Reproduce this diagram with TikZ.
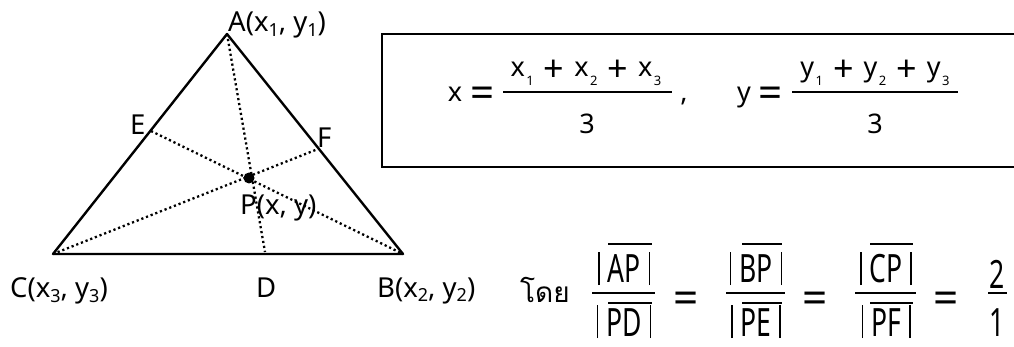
\documentclass[tikz,border=0pt]{standalone}
\usepackage{fontspec}
\usepackage{graphicx}
\setmainfont{Noto Sans}
\newfontfamily\thaifont[Script=Thai]{Loma}
\newcommand\lsub[1]{\raisebox{-0.3ex}{\fontsize{18}{18}\selectfont #1}}
\newcommand\tsub[1]{\hspace{1.5pt}\raisebox{-0.6ex}{\fontsize{13}{13}\selectfont #1}}
\newcommand\bigplus{\hspace{10pt}\raisebox{-5pt}{\fontsize{36}{36}\selectfont +}\hspace{10pt}}
\newcommand\bigeq{\raisebox{-5.5pt}{\fontsize{42}{42}\selectfont =}}
\newcommand\nar[1]{\scalebox{0.68}[1]{#1}}
\newcommand\vb{\rule[-2pt]{1.6pt}{33pt}}
\newcommand\absv[1]{\vb\hspace{8pt}\nar{#1}\hspace{8pt}\vb}
\tikzset{
  lbl/.style={anchor=base west, inner sep=0pt, font=\fontsize{27.5}{30}\selectfont},
  frm/.style={anchor=base, inner sep=0pt, font=\fontsize{27}{30}\selectfont},
  big/.style={anchor=base, inner sep=0pt, font=\fontsize{39}{42}\selectfont},
  eqs/.style={anchor=base, inner sep=0pt, font=\fontsize{44}{46}\selectfont},
  side/.style={line width=2.4pt, line join=round},
  median/.style={line width=2.3pt, dash pattern=on 2.2pt off 2.8pt},
  bar/.style={line width=2pt},
}
\begin{document}
\begin{tikzpicture}[x=1pt,y=-1pt]
\useasboundingbox (0,0) rectangle (1014,347);
\clip (0,0) rectangle (1014,347);
% triangle vertices
\coordinate (A) at (227,34);
\coordinate (B) at (403,254);
\coordinate (C) at (53,254);
\coordinate (D) at (265,252);
\coordinate (E) at (151,131);
\coordinate (F) at (318,149);
\coordinate (P) at (249,178);
\draw[median] (A) -- (D);
\draw[median] (E) -- (B);
\draw[median] (C) -- (F);
\draw[side] (A) -- (B) -- (C) -- cycle;
\fill (P) circle (5.5pt);
% labels
\node[lbl] (la) at (228,32) {A(x\lsub{1}, y\lsub{1})};
\node[lbl] (lc) at (10,298) {C(x\lsub{3}, y\lsub{3})};
\node[lbl] (lb) at (377,297) {B(x\lsub{2}, y\lsub{2})};
\node[lbl] (ld) at (256,298) {D};
\node[lbl] (le) at (130,135) {E};
\node[lbl] (lf) at (317,148) {F};
\node[lbl] (lp) at (240,215) {P(x, y)};
% formula box
\draw[line width=2pt] (1030,34) -- (382,34) -- (382,167) -- (1030,167);
\node[frm] (fx) at (471,102) {x\hspace{8pt}\bigeq};
\node[frm] (nx) at (586,77) {x\tsub{1}\bigplus x\tsub{2}\bigplus x\tsub{3}};
\draw[bar] (503,92) -- (672,92);
\node[frm] (dx) at (587,134) {3};
\node[frm] (cm) at (684,102) {,};
\node[frm] (fy) at (760,102) {y\hspace{8pt}\bigeq};
\node[frm] (ny) at (875,77) {y\tsub{1}\bigplus y\tsub{2}\bigplus y\tsub{3}};
\draw[bar] (792,92) -- (958,92);
\node[frm] (dy) at (875,134) {3};
% ratio
\node[anchor=base, inner sep=0pt, font=\thaifont\fontsize{28}{30}\selectfont] (doy) at (545,302) {โดย};
\node[big] (n1) at (624,283) {\absv{AP}};
\draw[bar] (592,293) -- (655,293);
\node[big] (d1) at (624,336) {\absv{PD}};
\draw[bar] (608,244) -- (652,244);
\draw[bar] (608,303) -- (652,303);
\node[eqs] (e1) at (686,313) {=};
\node[big] (n2) at (756,283) {\absv{BP}};
\draw[bar] (726,293) -- (785,293);
\node[big] (d2) at (756,336) {\absv{PE}};
\draw[bar] (742,244) -- (782,244);
\draw[bar] (742,303) -- (782,303);
\node[eqs] (e2) at (815,313) {=};
\node[big] (n3) at (886,283) {\absv{CP}};
\draw[bar] (855,293) -- (916,293);
\node[big] (d3) at (886,336) {\absv{PF}};
\draw[bar] (870,244) -- (913,244);
\draw[bar] (870,303) -- (913,303);
\node[eqs] (e3) at (946,313) {=};
\node[big] (n4) at (997,288) {\nar{2}};
\draw[bar] (988,293) -- (1007,293);
\node[big] (d4) at (997,336) {\nar{1}};
\end{tikzpicture}
\end{document}
